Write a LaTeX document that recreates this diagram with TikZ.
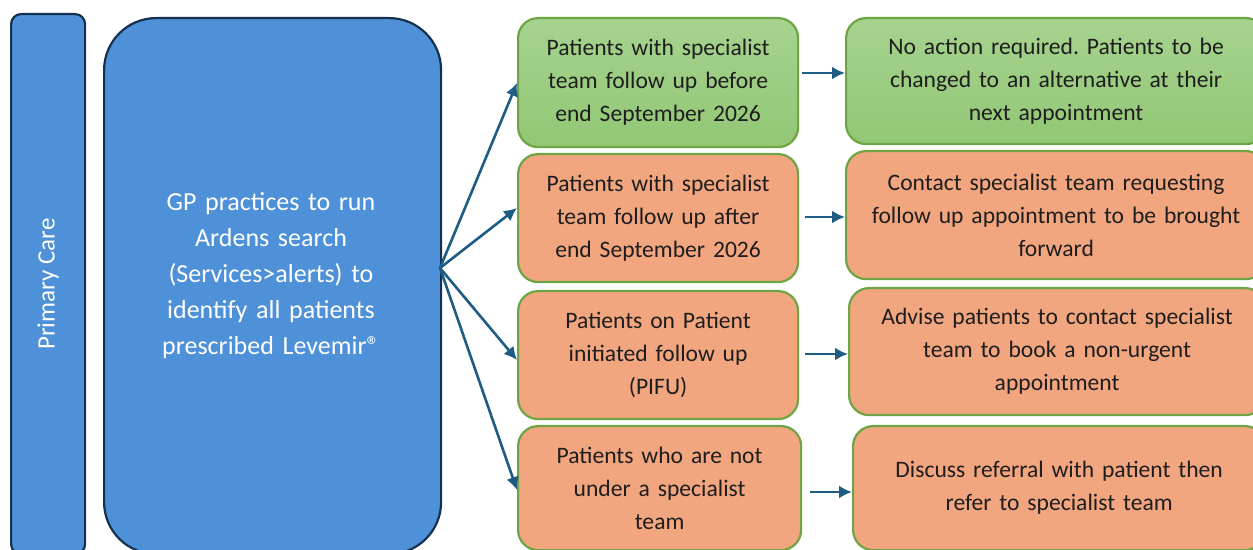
\documentclass[tikz,border=0pt]{standalone}
\usepackage{fontspec}
\setmainfont{Carlito}
\usetikzlibrary{positioning,arrows.meta}
\frenchspacing

\definecolor{laneblue}{HTML}{4E91D8}
\definecolor{navy}{HTML}{14324F}
\definecolor{leaf}{HTML}{6DA544}
\definecolor{leaftop}{HTML}{A6D38F}
\definecolor{leafbot}{HTML}{92C775}
\definecolor{peach}{HTML}{F2A67F}
\definecolor{arrowblue}{HTML}{1F5C84}
\definecolor{ink}{HTML}{1E1E1E}

\tikzset{
  box/.style     = {shape=rectangle, draw, line width=1.1pt, align=center,
                    anchor=north west, inner sep=0pt},
  lane/.style    = {box, draw=navy, fill=laneblue, rounded corners=5pt,
                    text=white},
  source/.style  = {box, draw=navy, fill=laneblue, rounded corners=26pt,
                    text=white},
  keep/.style    = {box, draw=leaf, top color=leaftop, bottom color=leafbot,
                    rounded corners=10pt, text=ink, font=\fontsize{11.8}{16.5}\selectfont},
  act/.style     = {box, draw=leaf, fill=peach, text=ink,
                    rounded corners=10pt, font=\fontsize{11.8}{16.5}\selectfont},
  link/.style    = {draw=arrowblue, line width=1.3pt, -{Latex[length=6.5pt,width=6.5pt]}}
}

\begin{document}
\begin{tikzpicture}[x=0.5pt, y=-0.5pt]
\clip (0,0) rectangle (1253,550);

% left column
\node[lane, minimum width=37pt, minimum height=270pt] (care) at (10,13) {};
\node[rotate=90, text=white, font=\fontsize{12.5}{14}\selectfont] at (care.center) {Primary Care};
\node[source, minimum width=168.5pt, minimum height=268pt] (gp) at (103,17) {};
\node[text=white, align=center, text width=160pt, font=\fontsize{13}{18}\selectfont] (gptext) at (271,276)
  {GP practices to run\\Ardens search\\(Services>alerts) to\\identify all patients\\prescribed Levemir®};
\coordinate (fan) at (440,268);

% patient groups
\node[keep, minimum width=140pt, minimum height=64.5pt, text width=135pt] (before) at (517,17)
  {Patients with specialist\\team follow up before\\end September 2026};
\node[act, minimum width=140pt, minimum height=64pt, text width=135pt] (after) at (517,153)
  {Patients with specialist\\team follow up after\\end September 2026};
\node[act, minimum width=140pt, minimum height=64pt, text width=135pt] (pifu) at (517,290)
  {Patients on Patient\\initiated follow up\\(PIFU)};
\node[act, minimum width=141.5pt, minimum height=62pt, text width=135pt] (none) at (517,425)
  {Patients who are not\\under a specialist\\team};

% actions
\node[keep, minimum width=210pt, minimum height=63pt, text width=205pt] (noaction) at (845,17)
  {No action required. Patients to be\\changed to an alternative at their\\next appointment};
\node[act, minimum width=210pt, minimum height=64pt, text width=205pt] (contact) at (845,150)
  {Contact specialist team requesting\\follow up appointment to be brought\\forward};
\node[act, minimum width=208pt, minimum height=63.5pt, text width=205pt] (advise) at (848,287)
  {Advise patients to contact specialist\\team to book a non-urgent\\appointment};
\node[act, minimum width=206pt, minimum height=62pt, text width=200pt] (refer) at (852,425)
  {Discuss referral with patient then\\refer to specialist team\\[16.5pt]};

% connectors
\draw[link] (fan) -- (before.west |- 0,83);
\draw[link] (fan) -- (after.west |- 0,208);
\draw[link] (fan) -- (pifu.west |- 0,360);
\draw[link] (fan) -- (none.west |- 0,490);

\draw[link] (before.east |- 0,73) ++(3,0) coordinate (b1) -- (noaction.west |- b1);
\draw[link] (after.east |- 0,217) ++(6,0) coordinate (b2) -- (contact.west |- b2);
\draw[link] (pifu.east |- 0,354) ++(6,0) coordinate (b3) -- (advise.west |- b3);
\draw[link] (none.east |- 0,492) ++(8,0) coordinate (b4) -- (refer.west |- b4);
\end{tikzpicture}
\end{document}
